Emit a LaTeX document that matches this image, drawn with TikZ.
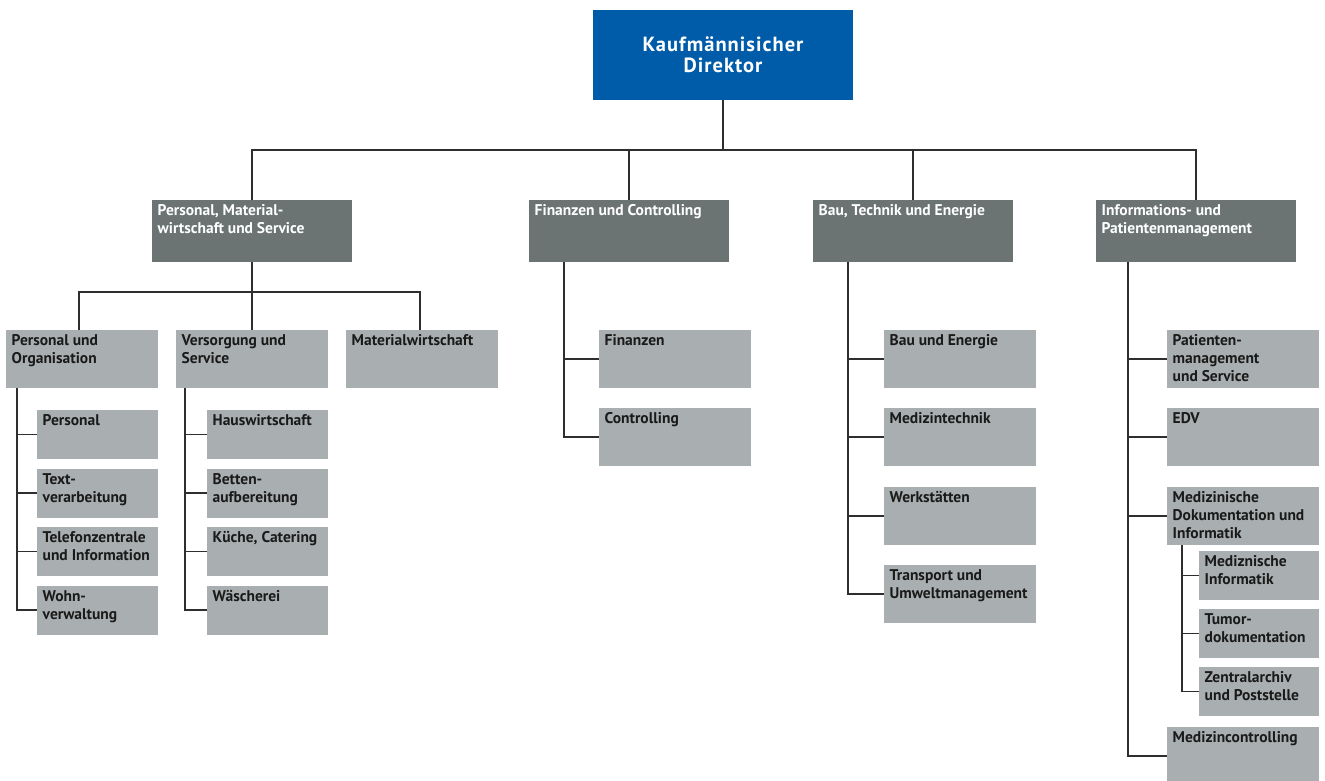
\documentclass[tikz,border=0pt]{standalone}
\usepackage{fontspec}
\setmainfont{PT Sans}
\definecolor{topblue}{HTML}{005CA9}
\definecolor{dgray}{HTML}{6B7373}
\definecolor{lgray}{HTML}{A9AFB0}
\definecolor{linec}{HTML}{2E2E2E}
\definecolor{txtc}{HTML}{1A1A1A}
\begin{document}
\begin{tikzpicture}[x=1pt,y=-1pt,
  font=\bfseries\fontsize{15.5}{18}\selectfont,
  conn/.style={draw=linec, line width=1.3pt},
  topbox/.style={rectangle, fill=topblue, text=white, anchor=north west, inner sep=0pt, outer sep=0pt,
    minimum width=260pt, minimum height=90pt, align=center, font=\bfseries\fontsize{20.5}{21}\selectfont\addfontfeature{LetterSpace=5}},
  lvtwo/.style={rectangle, fill=dgray, anchor=north west, inner sep=0pt, outer sep=0pt, minimum width=200pt, minimum height=62pt},
  lvthree/.style={rectangle, fill=lgray, anchor=north west, inner sep=0pt, outer sep=0pt, minimum width=152pt, minimum height=58pt},
  lvfour/.style={rectangle, fill=lgray, anchor=north west, inner sep=0pt, outer sep=0pt, minimum width=121pt, minimum height=49pt},
  txtw/.style={anchor=north west, inner xsep=5.5pt, inner ysep=4.5pt, align=left, text=white},
  txtd/.style={anchor=north west, inner xsep=5.5pt, inner ysep=4.5pt, align=left, text=txtc},
]
\useasboundingbox (0,0) rectangle (1325,780);

% top
\node[topbox] (top) at (593,10) {Kaufmännisicher\\Direktor};

% level 2
\node[lvtwo] (p1) at (152,200) {};
\node[lvtwo] (p2) at (529,200) {};
\node[lvtwo] (p3) at (813,200) {};
\node[lvtwo] (p4) at (1096,200) {};
\node[txtw] (p1t) at (p1.north west) {Personal, Material-\\wirtschaft und Service};
\node[txtw] (p2t) at (p2.north west) {Finanzen und Controlling};
\node[txtw] (p3t) at (p3.north west) {Bau, Technik und Energie};
\node[txtw] (p4t) at (p4.north west) {Informations- und\\Patientenmanagement};

% level 3 under p1
\node[lvthree] (c1) at (6,330) {};
\node[lvthree] (c2) at (176,330) {};
\node[lvthree] (c3) at (346,330) {};
\node[txtd] (c1t) at (c1.north west) {Personal und\\Organisation};
\node[txtd] (c2t) at (c2.north west) {Versorgung und\\Service};
\node[txtd] (c3t) at (c3.north west) {Materialwirtschaft};

% level 4 under c1
\node[lvfour] (d1) at (37,410) {};
\node[lvfour] (d2) at (37,468.5) {};
\node[lvfour] (d3) at (37,527) {};
\node[lvfour] (d4) at (37,585.5) {};
\node[txtd] (d1t) at (d1.north west) {Personal};
\node[txtd] (d2t) at (d2.north west) {Text-\\verarbeitung};
\node[txtd] (d3t) at (d3.north west) {Telefonzentrale\\und Information};
\node[txtd] (d4t) at (d4.north west) {Wohn-\\verwaltung};

% level 4 under c2
\node[lvfour] (e1) at (207,410) {};
\node[lvfour] (e2) at (207,468.5) {};
\node[lvfour] (e3) at (207,527) {};
\node[lvfour] (e4) at (207,585.5) {};
\node[txtd] (e1t) at (e1.north west) {Hauswirtschaft};
\node[txtd] (e2t) at (e2.north west) {Betten-\\aufbereitung};
\node[txtd] (e3t) at (e3.north west) {Küche, Catering};
\node[txtd] (e4t) at (e4.north west) {Wäscherei};

% Finanzen
\node[lvthree] (f1) at (599,330) {};
\node[lvthree] (f2) at (599,408) {};
\node[txtd] (f1t) at (f1.north west) {Finanzen};
\node[txtd] (f2t) at (f2.north west) {Controlling};

% Bau
\node[lvthree] (b1) at (884,330) {};
\node[lvthree] (b2) at (884,408) {};
\node[lvthree] (b3) at (884,487) {};
\node[lvthree] (b4) at (884,565) {};
\node[txtd] (b1t) at (b1.north west) {Bau und Energie};
\node[txtd] (b2t) at (b2.north west) {Medizintechnik};
\node[txtd] (b3t) at (b3.north west) {Werkstätten};
\node[txtd] (b4t) at (b4.north west) {Transport und\\Umweltmanagement};

% IT
\node[lvthree] (i1) at (1167,330) {};
\node[lvthree] (i2) at (1167,408) {};
\node[lvthree] (i3) at (1167,487) {};
\node[lvthree] (i4) at (1167,727) {};
\node[txtd] (i1t) at (i1.north west) {Patienten-\\management\\und Service};
\node[txtd] (i2t) at (i2.north west) {EDV};
\node[txtd] (i3t) at (i3.north west) {Medizinische\\Dokumentation und\\Informatik};
\node[txtd] (i4t) at (i4.north west) {Medizincontrolling};
\node[lvfour, minimum width=120pt] (j1) at (1199,551) {};
\node[lvfour, minimum width=120pt] (j2) at (1199,609) {};
\node[lvfour, minimum width=120pt] (j3) at (1199,667) {};
\node[txtd] (j1t) at (j1.north west) {Mediznische\\Informatik};
\node[txtd] (j2t) at (j2.north west) {Tumor-\\dokumentation};
\node[txtd] (j3t) at (j3.north west) {Zentralarchiv\\und Poststelle};

% connectors
\coordinate (busA) at (0,150);
\draw[conn] (top.south) -- (top.south |- busA);
\draw[conn] (p1.north) |- (p4.north |- busA) -- (p4.north);
\draw[conn] (p2.north) -- (p2.north |- busA);
\draw[conn] (p3.north) -- (p3.north |- busA);

\coordinate (busB) at (0,292);
\coordinate (c1k) at ([xshift=-3pt]c1.north);
\coordinate (c3k) at ([xshift=-2pt]c3.north);
\draw[conn] (p1.south) -- (c2.north);
\draw[conn] (c1k) |- (c3k |- busB) -- (c3k);

\coordinate (v1) at ([xshift=11pt]c1.south west);
\draw[conn] (v1) |- (d4.west);
\foreach \n in {d1,d2,d3} \draw[conn] (v1 |- \n.west) -- (\n.west);
\coordinate (v2) at ([xshift=9pt]c2.south west);
\draw[conn] (v2) |- (e4.west);
\foreach \n in {e1,e2,e3} \draw[conn] (v2 |- \n.west) -- (\n.west);

\coordinate (vf) at ([xshift=35pt]p2.south west);
\draw[conn] (vf) |- (f2.west);
\draw[conn] (vf |- f1.west) -- (f1.west);

\coordinate (vb) at ([xshift=35pt]p3.south west);
\draw[conn] (vb) |- (b4.west);
\foreach \n in {b1,b2,b3} \draw[conn] (vb |- \n.west) -- (\n.west);

\coordinate (vi) at ([xshift=32pt]p4.south west);
\draw[conn] (vi) |- (i4.west);
\foreach \n in {i1,i2,i3} \draw[conn] (vi |- \n.west) -- (\n.west);

\coordinate (vj) at ([xshift=15pt]i3.south west);
\draw[conn] (vj) |- (j3.west);
\foreach \n in {j1,j2} \draw[conn] (vj |- \n.west) -- (\n.west);
\end{tikzpicture}
\end{document}
